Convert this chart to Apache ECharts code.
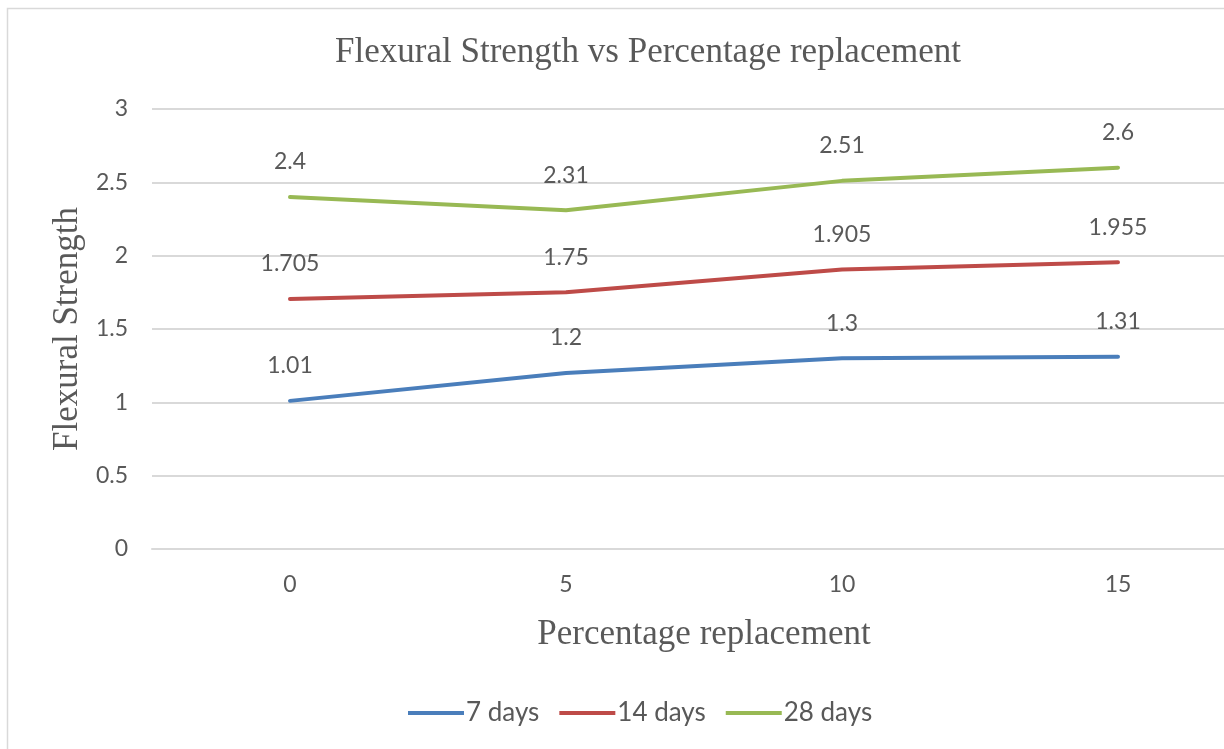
<!DOCTYPE html>
<html>
<head>
<meta charset="utf-8">
<script src="https://cdn.jsdelivr.net/npm/echarts@6/dist/echarts.min.js"></script>
<style>
  html, body { margin: 0; padding: 0; background: #fff; }
  #chart { width: 1224px; height: 749px; }
</style>
</head>
<body>
<div id="chart"></div>
<script>
// Percentage replacement levels (x categories)
const categories = ['0', '5', '10', '15'];
// Flexural strength at each curing age
const days7 = [1.01, 1.2, 1.3, 1.31];
const days14 = [1.705, 1.75, 1.905, 1.955];
const days28 = [2.4, 2.31, 2.51, 2.6];
const seriesNames = ['7 days', '14 days', '28 days'];
const seriesColors = ['#4a7ebb', '#be4b48', '#98b954'];

const labelFont = 'Lato, "Open Sans", sans-serif';
const serifFont = '"Liberation Serif", "DejaVu Serif", serif';
const gray = '#595959';

function lineSeries(name, data, color) {
  return {
    name: name,
    type: 'line',
    data: data,
    symbol: 'circle',
    symbolSize: 1,
    showSymbol: true,
    lineStyle: { color: color, width: 4, cap: 'round' },
    itemStyle: { color: color },
    label: {
      show: true,
      position: 'top',
      distance: 23,
      color: gray,
      fontFamily: labelFont,
      fontSize: 23
    }
  };
}

const chart = echarts.init(document.getElementById('chart'));
chart.setOption({
  backgroundColor: '#ffffff',
  animation: false,
  graphic: [{
    type: 'rect',
    shape: { x: 7.5, y: 8.5, width: 1400, height: 900 },
    style: { fill: 'none', stroke: '#d9d9d9', lineWidth: 1.5 },
    silent: true,
    z: -10
  }, {
    type: 'text',
    x: 648, y: 53,
    style: {
      text: 'Flexural Strength vs Percentage replacement',
      textAlign: 'center',
      textVerticalAlign: 'middle',
      fill: gray,
      font: '35px ' + serifFont
    }
  }],
  // the plot runs past the right edge of the canvas
  grid: { left: 152, top: 109, width: 1104, height: 440, outerBoundsMode: 'none', containLabel: false },
  legend: {
    top: 695,
    left: 403,
    icon: 'rect',
    itemWidth: 56,
    itemHeight: 4,
    itemGap: 20,
    textStyle: { color: gray, fontFamily: labelFont, fontSize: 26, padding: [0, 0, 0, -3] },
    data: seriesNames
  },
  xAxis: {
    type: 'category',
    data: categories,
    boundaryGap: true,
    name: 'Percentage replacement',
    nameLocation: 'middle',
    nameGap: 68,
    nameTextStyle: { color: gray, fontFamily: serifFont, fontSize: 35 },
    axisLine: { show: true, lineStyle: { color: '#d9d9d9', width: 2 } },
    axisTick: { show: false },
    axisLabel: { color: gray, fontFamily: labelFont, fontSize: 23, margin: 24 }
  },
  yAxis: {
    type: 'value',
    min: 0,
    max: 3,
    interval: 0.5,
    name: 'Flexural Strength',
    nameLocation: 'middle',
    nameGap: 66,
    nameRotate: 90,
    nameTextStyle: { color: gray, fontFamily: serifFont, fontSize: 35 },
    axisLine: { show: false },
    axisTick: { show: false },
    axisLabel: { color: gray, fontFamily: labelFont, fontSize: 23, margin: 24 },
    splitLine: { lineStyle: { color: '#d9d9d9', width: 2 } }
  },
  series: [
    lineSeries(seriesNames[0], days7, seriesColors[0]),
    lineSeries(seriesNames[1], days14, seriesColors[1]),
    lineSeries(seriesNames[2], days28, seriesColors[2])
  ]
});
</script>
</body>
</html>
